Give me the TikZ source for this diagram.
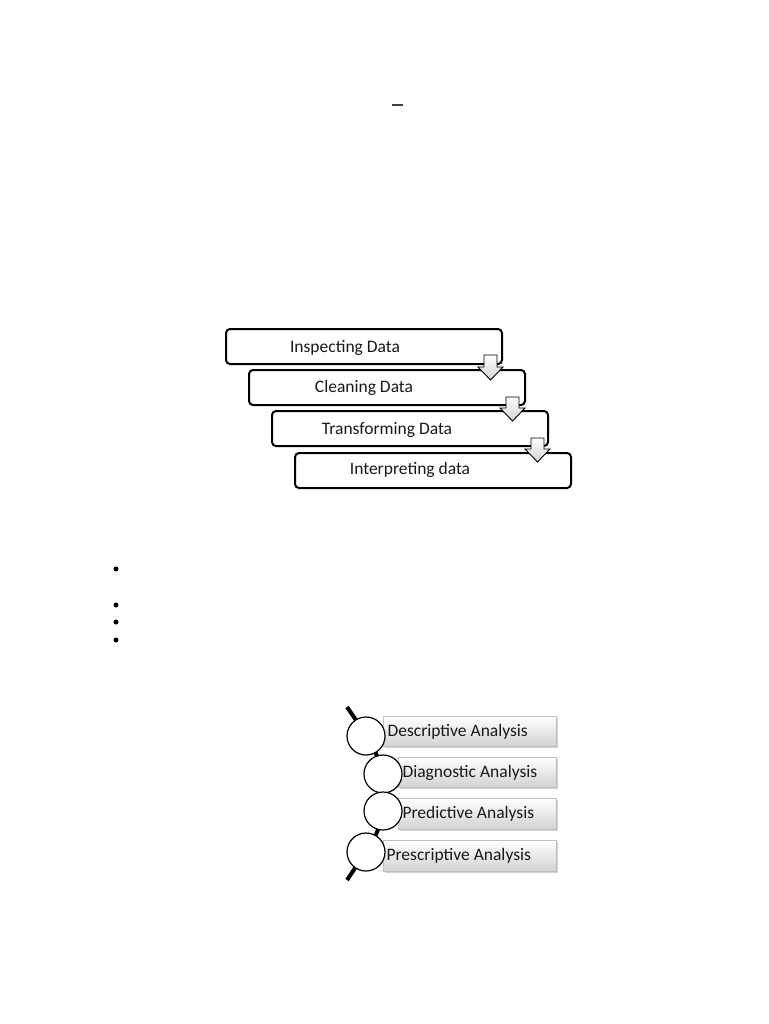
\documentclass[tikz,border=0pt]{standalone}
\usepackage{fontspec}
\setmainfont{Carlito}
\usetikzlibrary{shadows}
\begin{document}
\begin{tikzpicture}[x=1pt,y=-1pt,
  flowbox/.style={draw=black,line width=2pt,rounded corners=4pt,fill=white},
  flowtext/.style={font=\fontsize{17.5}{20}\selectfont,anchor=center,text=black!90},
  downarrow/.style={draw=black,line width=0.9pt,top color=white,bottom color=gray!35,line join=miter},
  anabox/.style={draw=gray!50,line width=0.5pt,top color=white,bottom color=gray!35,
     drop shadow={shadow xshift=1.5pt,shadow yshift=-1.5pt,opacity=0.35}},
  anacircle/.style={circle,draw=black,line width=1.2pt,fill=white,minimum size=38pt,inner sep=0pt},
  anatext/.style={font=\fontsize{17.5}{20}\selectfont,anchor=west,text=black!90},
  bulletdot/.style={circle,fill=black,minimum size=5pt,inner sep=0pt}]
\useasboundingbox (0,0) rectangle (768,1024);
\fill[white] (0,0) rectangle (768,1024);
% top dash
\draw[line width=1.5pt,black!75] (392,105) -- (403,105);
% flow boxes
\draw[flowbox] (226,329) rectangle (502,364);
\node[flowtext] (t1) at (345,348) {Inspecting Data};
\draw[flowbox] (249,370) rectangle (525,405);
\node[flowtext] (t2) at (364,388) {Cleaning Data};
\draw[flowbox] (272,411) rectangle (548,446);
\node[flowtext] (t3) at (387,430) {Transforming Data};
\draw[flowbox] (295,453) rectangle (571,488);
\node[flowtext] (t4) at (410,470) {Interpreting data};
% down arrows
\draw[downarrow] (484,355) -- (497,355) -- (497,367) -- (503,367) -- (490.5,380) -- (478,367) -- (484,367) -- cycle;
\draw[downarrow] (506,397) -- (519,397) -- (519,408) -- (525,408) -- (512.5,421) -- (500,408) -- (506,408) -- cycle;
\draw[downarrow] (531,438) -- (544,438) -- (544,449) -- (550,449) -- (537.5,462) -- (525,449) -- (531,449) -- cycle;
% bullets
\node[bulletdot] (b1) at (116,569) {};
\node[bulletdot] (b2) at (116,605) {};
\node[bulletdot] (b3) at (116,622) {};
\node[bulletdot] (b4) at (116,640) {};
% analysis
\draw[line width=4pt,black] (347,707) .. controls (356,720) .. (366,736)
  .. controls (376,752) .. (383,774) .. controls (388,792) .. (383,811)
  .. controls (378,832) .. (366,852) .. controls (357,866) .. (347,880);
\draw[anabox] (383,716) rectangle (556,746);
\draw[anabox] (398,757) rectangle (556,787);
\draw[anabox] (398,798) rectangle (556,829);
\draw[anabox] (383,840) rectangle (556,871);
\node[anacircle] (c1) at (366,736) {};
\node[anacircle] (c2) at (383,774) {};
\node[anacircle] (c3) at (383,811) {};
\node[anacircle] (c4) at (366,852) {};
\node[anatext] (d1) at (384,732) {Descriptive Analysis};
\node[anatext] (d2) at (399,773) {Diagnostic Analysis};
\node[anatext] (d3) at (399,814) {Predictive Analysis};
\node[anatext] (d4) at (383,856) {Prescriptive Analysis};
\end{tikzpicture}
\end{document}
